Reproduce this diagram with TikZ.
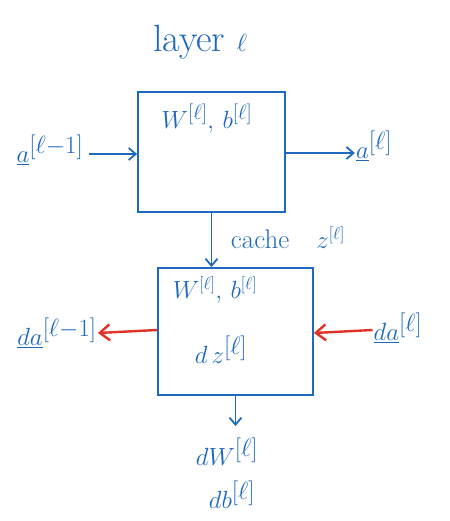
\documentclass[tikz,border=0pt]{standalone}
\usetikzlibrary{arrows.meta}
\definecolor{pen}{RGB}{30,105,190}
\definecolor{redpen}{RGB}{225,50,40}
\begin{document}
\begin{tikzpicture}[x=1pt,y=-1pt,
  ink/.style={draw=pen,line width=1.8pt},
  layerbox/.style={ink,rectangle,inner sep=0pt},
  label/.style={text=pen,inner sep=1pt},
  fwd/.style={ink,-{Straight Barb[length=7pt,width=12pt]}},
  bwd/.style={draw=redpen,line width=2.4pt,-{Straight Barb[length=10pt,width=16pt]}}]
\useasboundingbox (0,0) rectangle (449,521);
\fill[white] (0,0) rectangle (449,521);
% boxes
\node[layerbox,minimum width=147pt,minimum height=120pt] (box1) at (211.5,152) {};
\node[layerbox,minimum width=155pt,minimum height=127pt] (box2) at (235.5,331.5) {};
% texts
\node[label,font=\fontsize{38}{44}\selectfont] (title) at (200,42) {layer $\ell$};
\node[label,font=\fontsize{30}{34}\selectfont] (wb1) at (207,119) {$W^{[\ell]},\, b^{[\ell]}$};
\node[label,font=\fontsize{27}{31}\selectfont] (wb2) at (215,290) {$W^{[\ell]},\, b^{[\ell]}$};
\node[label,font=\fontsize{36}{40}\selectfont] (dz) at (221,350) {$d\,z^{[\ell]}$};
\node[label,font=\fontsize{34}{38}\selectfont] (aprev) at (50,150) {$\underline{a}^{[\ell-1]}$};
\node[label,font=\fontsize{34}{38}\selectfont] (acur) at (374,146) {$\underline{a}^{[\ell]}$};
\node[label,font=\fontsize{27}{31}\selectfont] (cache) at (288,238) {cache\quad $z^{[\ell]}$};
\node[label,font=\fontsize{34}{38}\selectfont] (daprev) at (57,333) {$\underline{da}^{[\ell-1]}$};
\node[label,font=\fontsize{38}{42}\selectfont] (dacur) at (398,328) {$\underline{da}^{[\ell]}$};
\node[label,font=\fontsize{40}{44}\selectfont] (dW) at (227,452) {$dW^{[\ell]}$};
\node[label,font=\fontsize{40}{44}\selectfont] (db) at (232,495) {$db^{[\ell]}$};
% forward connectors
\draw[fwd] (aprev.east) ++(4,4) coordinate (aprevout) -- (aprevout -| box1.west);
\draw[fwd] (box1.east |- 0,153) coordinate (b1out) -- (acur.west |- b1out);
\draw[fwd] (box1.south) -- (box1.south |- box2.north);
\draw[fwd] (box2.south) -- (box2.south |- 0,426);
% backward connectors
\draw[bwd] (box2.west |- 0,330) coordinate (b2l) -- (daprev.east |- 0,333);
\draw[bwd] (dacur.west |- 0,330) coordinate (dar) -- (box2.east |- 0,333);
\end{tikzpicture}
\end{document}
